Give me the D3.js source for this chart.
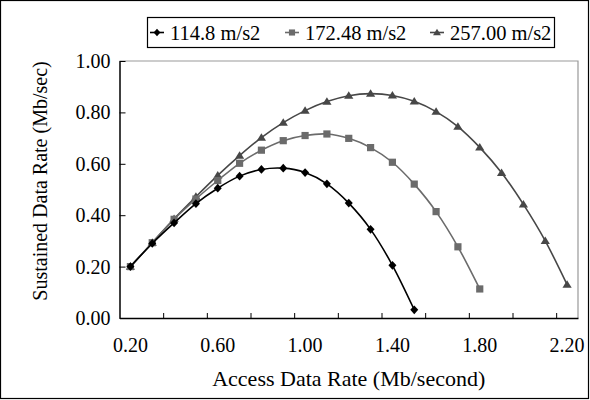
<!DOCTYPE html>
<html lang="en">
<head>
<meta charset="utf-8">
<title>Sustained vs Access Data Rate</title>
<script src="https://cdnjs.cloudflare.com/ajax/libs/d3/7.8.5/d3.min.js"></script>
<style>
  body { margin: 0; background: #fff; }
  svg { font-family: "Liberation Serif", "Times New Roman", serif; }
</style>
</head>
<body>
<div id="chart"></div>
<script>
// access data rate categories (Mb/second)
var categories = ["0.20","0.30","0.40","0.50","0.60","0.70","0.80","0.90","1.00","1.10",
                  "1.20","1.30","1.40","1.50","1.60","1.70","1.80","1.90","2.00","2.10","2.20"];
var xLabels = ["0.20","0.60","1.00","1.40","1.80","2.20"];
var yTicks = [0, 0.2, 0.4, 0.6, 0.8, 1.0];

var seriesNames = ["114.8 m/s2", "172.48 m/s2", "257.00 m/s2"];
// sustained data rate (Mb/sec)
var rate114 = [0.20,0.29,0.37,0.445,0.505,0.552,0.578,0.583,0.566,0.522,0.447,0.345,0.205,0.032];
var rate172 = [0.20,0.293,0.384,0.463,0.535,0.602,0.653,0.69,0.71,0.716,0.699,0.663,0.606,0.521,0.414,0.277,0.113];
var rate257 = [0.20,0.293,0.386,0.472,0.555,0.632,0.702,0.76,0.807,0.842,0.865,0.873,0.866,0.843,0.803,0.745,0.664,0.565,0.442,0.30,0.13];

var width = 590, height = 400;
var plotL = 119.5, plotR = 578, plotT = 61, plotB = 318;

// excel-like marker shapes (size = half width)
var diamond = { draw: function(ctx, r) {
  ctx.moveTo(0, -r * 1.1); ctx.lineTo(r, 0); ctx.lineTo(0, r * 1.1); ctx.lineTo(-r, 0); ctx.closePath();
}};
var square = { draw: function(ctx, r) { ctx.rect(-r, -r, 2 * r, 2 * r); } };
var triangle = { draw: function(ctx, r) {
  ctx.moveTo(0, -r * 1.05); ctx.lineTo(r * 1.1, r * 0.75); ctx.lineTo(-r * 1.1, r * 0.75); ctx.closePath();
}};

var svg = d3.select("#chart").append("svg")
    .attr("width", width)
    .attr("height", height);

// outer border
svg.append("rect")
    .attr("x", 0.5).attr("y", 0.5)
    .attr("width", 588).attr("height", 398)
    .attr("fill", "none").attr("stroke", "#000").attr("stroke-width", 1.2);

var x = d3.scaleBand().domain(categories).range([plotL, plotR]);
var xEdge = d3.scaleLinear().domain([0, categories.length]).range([plotL, plotR]);
var y = d3.scaleLinear().domain([0, 1]).range([plotB, plotT]);

function cx(c) { return x(c) + x.bandwidth() / 2; }

// plot area frame (top/right in gray)
svg.append("path")
    .attr("d", "M" + plotL + "," + plotT + "H" + plotR + "V" + plotB)
    .attr("fill", "none").attr("stroke", "#999").attr("stroke-width", 1.2);

// y axis
var yAxis = d3.axisLeft(y).tickValues(yTicks).tickFormat(d3.format(".2f"))
    .tickSizeInner(-6).tickSizeOuter(0).tickPadding(9);
var gy = svg.append("g").attr("transform", "translate(" + plotL + ",0)").call(yAxis);
gy.select(".domain").attr("stroke", "#000").attr("stroke-width", 1.5);
gy.selectAll("text").attr("font-size", 20).attr("font-family", "Liberation Serif").attr("fill", "#000");

// x axis: tick marks every 2 categories, labels every 4
var xTickAxis = d3.axisBottom(xEdge).tickValues(d3.range(2, categories.length + 1, 2))
    .tickSizeInner(-5).tickSizeOuter(0).tickFormat("");
var gx = svg.append("g").attr("transform", "translate(0," + plotB + ")").call(xTickAxis);
gx.select(".domain").attr("stroke", "#000").attr("stroke-width", 1.5);

var xLabelAxis = d3.axisBottom(x).tickValues(xLabels).tickSize(0).tickPadding(20);
var gxl = svg.append("g").attr("transform", "translate(0," + plotB + ")").call(xLabelAxis);
gxl.select(".domain").remove();
gxl.selectAll("text").attr("font-size", 20).attr("font-family", "Liberation Serif").attr("fill", "#000");

// axis titles
svg.append("text")
    .attr("x", (plotL + plotR) / 2).attr("y", 386)
    .attr("text-anchor", "middle").attr("font-size", 22)
    .text("Access Data Rate (Mb/second)");
svg.append("text")
    .attr("transform", "translate(47,181) rotate(-90)")
    .attr("text-anchor", "middle").attr("font-size", 20)
    .text("Sustained Data Rate (Mb/sec)");

var series = [
  {name: seriesNames[0], values: rate114, color: "#000", shape: diamond, size: 4},
  {name: seriesNames[1], values: rate172, color: "#6b6b6b", shape: square, size: 3.6},
  {name: seriesNames[2], values: rate257, color: "#474747", shape: triangle, size: 4.2}
];

var line = d3.line()
    .x(function(d, i) { return cx(categories[i]); })
    .y(function(d) { return y(d); })
    .curve(d3.curveCatmullRom.alpha(0));

// draw back to front so black series is on top
series.slice().reverse().forEach(function(s) {
  svg.append("path")
      .datum(s.values)
      .attr("d", line)
      .attr("fill", "none")
      .attr("stroke", s.color)
      .attr("stroke-width", 1.6);
  svg.selectAll(null)
      .data(s.values)
      .enter().append("path")
      .attr("d", d3.symbol().type(s.shape).size(s.size))
      .attr("transform", function(d, i) {
        return "translate(" + cx(categories[i]) + "," + y(d) + ")";
      })
      .attr("fill", s.color);
});

// legend
var legend = svg.append("g");
legend.append("rect")
    .attr("x", 147.5).attr("y", 17.5)
    .attr("width", 407).attr("height", 30)
    .attr("fill", "#fff").attr("stroke", "#000").attr("stroke-width", 1.2);
var legendX = [150, 285, 430];
series.forEach(function(s, i) {
  var lx = legendX[i];
  legend.append("line")
      .attr("x1", lx).attr("x2", lx + 14)
      .attr("y1", 32.5).attr("y2", 32.5)
      .attr("stroke", s.color).attr("stroke-width", 1.6);
  legend.append("path")
      .attr("d", d3.symbol().type(s.shape).size(s.size * 0.85))
      .attr("transform", "translate(" + (lx + 7) + ",32.5)")
      .attr("fill", s.color);
  legend.append("text")
      .attr("x", lx + 20).attr("y", 40)
      .attr("font-size", 20.5)
      .text(s.name);
});
</script>
</body>
</html>
